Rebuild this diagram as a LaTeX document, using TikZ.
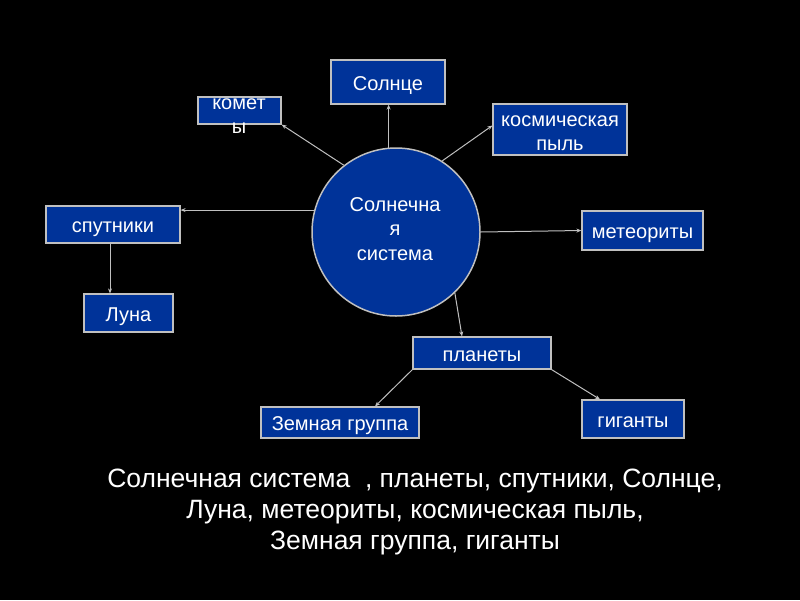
\documentclass[tikz,border=0pt]{standalone}
\usepackage{fontspec}
\setmainfont{Liberation Sans}
\usetikzlibrary{arrows.meta}
\definecolor{boxblue}{RGB}{0,51,153}
\definecolor{edgegray}{RGB}{192,192,192}
\tikzset{
  boxnode/.style={draw=edgegray, line width=1.2pt, fill=boxblue, text=white, inner sep=0pt,
    font=\fontsize{20}{24}\selectfont, align=center, text height=16pt, text depth=0pt},
  boxframe/.style={draw=edgegray, line width=1.2pt, fill=boxblue, inner sep=0pt},
  boxtext/.style={text=white, align=center, font=\fontsize{20}{24}\selectfont, inner sep=0pt},
  circnode/.style={circle, draw=edgegray, line width=1.5pt, fill=boxblue, inner sep=0pt,
    minimum size=168pt},
  conn/.style={draw=edgegray, line width=1pt, -{Stealth[length=5pt,width=4pt]}},
  plaintext/.style={text=white, align=center, font=\fontsize{26.5}{31}\selectfont}
}
\begin{document}
\begin{tikzpicture}[x=1pt,y=-1pt]
\fill[black] (0,0) rectangle (800,600);
\useasboundingbox (0,0) rectangle (800,600);

\node[circnode] (circ) at (396,232) {};
\node[boxtext, font=\fontsize{20}{24.5}\selectfont] (circtext) at (395,229) {Солнечна\\я\\ система};

\node[boxnode, minimum width=114pt, minimum height=44pt] (sun) at (388,82) {Солнце};
\node[boxframe, minimum width=83pt, minimum height=27pt] (kom) at (239.5,110.5) {};
\node[boxtext] (komtext) at (239,116) {комет\\ы};
\node[boxframe, minimum width=134pt, minimum height=51pt] (pyl) at (560,129.5) {};
\node[boxtext] (pyltext) at (560,133) {космическая\\пыль};
\node[boxnode, minimum width=134pt, minimum height=37pt] (sput) at (113,224.5) {спутники};
\node[boxnode, minimum width=121pt, minimum height=39pt] (met) at (642.5,230.5) {метеориты};
\node[boxnode, minimum width=89pt, minimum height=38pt] (luna) at (128.5,313) {Луна};
\node[boxnode, minimum width=138pt, minimum height=32pt] (plan) at (482,353) {планеты};
\node[boxnode, minimum width=158pt, minimum height=31pt] (zg) at (340,422.5) {Земная группа};
\node[boxnode, minimum width=102pt, minimum height=38pt] (gig) at (633,419) {гиганты};

\draw[conn] (circ.95) -- (circ.95 |- sun.south);
\draw[conn] (circ.128) -- (kom.south east);
\draw[conn] (circ.57) -- ([yshift=4pt]pyl.west);
\draw[conn] (circ.165) -- (circ.165 -| sput.east);
\draw[conn] (circ.east) -- (met.west);
\draw[conn] (circ.-46) -- ([xshift=-20pt]plan.north);
\draw[conn] ([xshift=-3pt]sput.south) -- ([xshift=-3pt]sput.south |- luna.north);
\draw[conn] (plan.south west) -- ([xshift=35pt]zg.north);
\draw[conn] (plan.south east) -- ([xshift=-33pt]gig.north);

\node[plaintext] (caption) at (415,512) {Солнечная система\ \ , планеты, спутники, Солнце,\\Луна, метеориты, космическая пыль,\\Земная группа, гиганты};
\end{tikzpicture}
\end{document}
